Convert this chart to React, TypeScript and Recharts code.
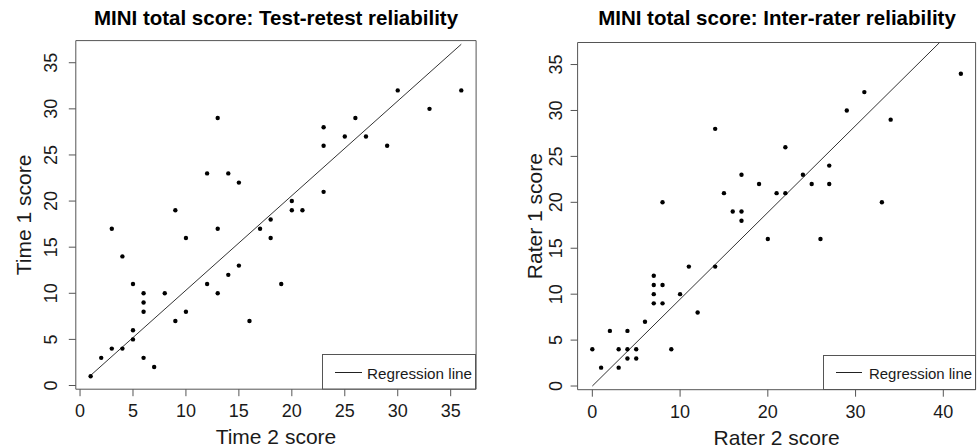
import React from 'react';
import {
  ScatterChart,
  Scatter,
  XAxis,
  YAxis,
  ReferenceArea,
  ReferenceLine,
  Legend,
} from 'recharts';

// Test-retest: Time 2 score (x) against Time 1 score (y)
const time2 = [1, 2, 3, 3, 4, 4, 5, 5, 5, 6, 6, 6, 6, 7, 8, 9, 9, 10, 10, 12, 12, 13, 13, 13, 14, 14, 15, 15, 16, 17, 18, 18, 19, 20, 20, 21, 23, 23, 23, 25, 26, 27, 29, 30, 33, 36];
const time1 = [1, 3, 4, 17, 4, 14, 11, 5, 6, 10, 9, 8, 3, 2, 10, 19, 7, 16, 8, 23, 11, 29, 17, 10, 23, 12, 22, 13, 7, 17, 18, 16, 11, 20, 19, 19, 28, 26, 21, 27, 29, 27, 26, 32, 30, 32];

// Inter-rater: Rater 2 score (x) against Rater 1 score (y)
const rater2 = [0, 1, 2, 3, 3, 4, 4, 4, 5, 5, 6, 7, 7, 7, 7, 8, 8, 8, 9, 10, 11, 12, 14, 14, 15, 16, 17, 17, 17, 19, 20, 21, 22, 22, 24, 25, 26, 27, 27, 29, 31, 33, 34, 42];
const rater1 = [4, 2, 6, 4, 2, 6, 4, 3, 4, 3, 7, 12, 11, 10, 9, 20, 11, 9, 4, 10, 13, 8, 28, 13, 21, 19, 23, 19, 18, 22, 16, 21, 26, 21, 23, 22, 16, 24, 22, 30, 32, 20, 29, 34];

// regression lines
const testRetestFit = { intercept: 0.07, slope: 1.026 };
const interRaterFit = { intercept: 0, slope: 0.945 };

const timeTicks = [0, 5, 10, 15, 20, 25, 30, 35];
const raterTicks = [0, 10, 20, 30, 40];
const scoreTicks = [0, 5, 10, 15, 20, 25, 30, 35];

const FONT = '"Liberation Sans", Arial, Helvetica, sans-serif';
const INK = '#1a1a1a';
const FRAME = '#555';
const AXIS_W = 30; // room reserved for each axis inside the margin

type Fit = { intercept: number; slope: number };
type LegendBox = {
  left: number;
  top: number;
  width: number;
  height: number;
  line: [number, number];
  lineY: number;
  textX: number;
  textY: number;
  textLen: number;
};

type PanelProps = {
  xs: number[];
  ys: number[];
  fit: Fit;
  xLabel: string;
  yLabel: string;
  xTicks: number[];
  xDomain: [number, number];
  yDomain: [number, number];
  left: number;
  width: number;
  // plot box edges measured from the chart's own top-left corner
  box: { top: number; right: number; bottom: number; left: number };
  yTickGap: number;
  yTitleGap: number;
  legendBox: LegendBox;
};

function Dot(props: any) {
  const { cx, cy } = props;
  if (cx == null || cy == null) return null;
  return <circle cx={cx} cy={cy} r={2.2} fill="#000" />;
}

function XTick(props: any) {
  const { x, y, payload } = props;
  return (
    <text x={x} y={y + 19} textAnchor="middle" fontSize={18} fontFamily={FONT} fill={INK}>
      {payload.value}
    </text>
  );
}

function makeYTick(gap: number) {
  return (props: any) => {
    const { x, y, payload } = props;
    return (
      <text
        transform={`translate(${x + 9 - gap},${y}) rotate(-90)`}
        textAnchor="middle"
        fontSize={18}
        fontFamily={FONT}
        fill={INK}
      >
        {payload.value}
      </text>
    );
  };
}

function Panel(p: PanelProps) {
  const points = p.xs.map((x, i) => ({ x, y: p.ys[i] }));
  const xMin = Math.min(...p.xs);
  const xMax = Math.min(Math.max(...p.xs), (p.yDomain[1] - p.fit.intercept) / p.fit.slope);
  const k = p.legendBox;
  const margin = {
    top: p.box.top,
    right: p.width - p.box.right,
    bottom: 448 - p.box.bottom - AXIS_W,
    left: p.box.left - AXIS_W,
  };

  return (
    <div style={{ position: 'absolute', left: p.left, top: 0 }}>
      <ScatterChart width={p.width} height={448} margin={margin}>
        <XAxis
          type="number"
          dataKey="x"
          domain={p.xDomain}
          allowDataOverflow
          ticks={p.xTicks}
          interval={0}
          height={AXIS_W}
          tickSize={7}
          tickMargin={2}
          axisLine={false}
          tickLine={{ stroke: FRAME }}
          tick={XTick}
          label={{
            content: (lp: any) => {
              const vb = lp.viewBox;
              return (
                <text x={vb.x + vb.width / 2} y={vb.y + 55} textAnchor="middle" fontSize={21} fontFamily={FONT} fill={INK}>
                  {p.xLabel}
                </text>
              );
            },
          }}
        />
        <YAxis
          type="number"
          dataKey="y"
          domain={p.yDomain}
          allowDataOverflow
          ticks={scoreTicks}
          interval={0}
          width={AXIS_W}
          tickSize={7}
          tickMargin={2}
          axisLine={false}
          tickLine={{ stroke: FRAME }}
          tick={makeYTick(p.yTickGap)}
          label={{
            content: (lp: any) => {
              const vb = lp.viewBox;
              return (
                <text
                  transform={`translate(${vb.x + vb.width - p.yTitleGap},${vb.y + vb.height / 2}) rotate(-90)`}
                  textAnchor="middle"
                  fontSize={21}
                  fontFamily={FONT}
                  fill={INK}
                >
                  {p.yLabel}
                </text>
              );
            },
          }}
        />
        <ReferenceArea
          x1={p.xDomain[0]}
          x2={p.xDomain[1]}
          y1={p.yDomain[0]}
          y2={p.yDomain[1]}
          fill="none"
          stroke={FRAME}
          strokeWidth={1}
          ifOverflow="visible"
        />
        <ReferenceLine
          segment={[
            { x: xMin, y: p.fit.intercept + p.fit.slope * xMin },
            { x: xMax, y: p.fit.intercept + p.fit.slope * xMax },
          ]}
          stroke="#333"
          strokeWidth={1}
          ifOverflow="visible"
        />
        <Scatter data={points} shape={Dot} isAnimationActive={false} />
        <Legend
          layout="horizontal"
          verticalAlign="middle"
          align="center"
          wrapperStyle={{ left: k.left, top: k.top, width: k.width, height: k.height, margin: 0, padding: 0 }}
          content={() => (
            <svg width={k.width} height={k.height} style={{ display: 'block' }}>
              <rect x={0.5} y={0.5} width={k.width - 1} height={k.height - 1} fill="#fff" stroke={FRAME} />
              <line x1={k.line[0]} x2={k.line[1]} y1={k.lineY} y2={k.lineY} stroke="#222" strokeWidth={1} />
              <text
                x={k.textX}
                y={k.textY}
                fontSize={15}
                fontFamily={FONT}
                fill={INK}
                textLength={k.textLen}
                lengthAdjust="spacingAndGlyphs"
              >
                Regression line
              </text>
            </svg>
          )}
        />
      </ScatterChart>
    </div>
  );
}

export default function App() {
  return (
    <div style={{ position: 'absolute', left: 0, top: 0, width: 977, height: 448, background: '#fff', overflow: 'hidden' }}>
      <Panel
        xs={time2}
        ys={time1}
        fit={testRetestFit}
        xLabel="Time 2 score"
        yLabel="Time 1 score"
        xTicks={timeTicks}
        xDomain={[-0.4, 37.4]}
        yDomain={[-0.4, 37.4]}
        left={0}
        width={488}
        box={{ top: 40.6, right: 476.1, bottom: 389.2, left: 75.8 }}
        yTickGap={19}
        yTitleGap={45}
        legendBox={{ left: 322, top: 354, width: 154, height: 35.5, line: [13, 40], lineY: 18.5, textX: 45, textY: 24.5, textLen: 105 }}
      />
      <Panel
        xs={rater2}
        ys={rater1}
        fit={interRaterFit}
        xLabel="Rater 2 score"
        yLabel="Rater 1 score"
        xTicks={raterTicks}
        xDomain={[-1.68, 43.68]}
        yDomain={[-0.4, 37.4]}
        left={488}
        width={489}
        box={{ top: 42.5, right: 487.6, bottom: 389.7, left: 89.6 }}
        yTickGap={16}
        yTitleGap={36}
        legendBox={{ left: 335, top: 355, width: 153, height: 35, line: [13, 39], lineY: 17.5, textX: 46, textY: 23.5, textLen: 103 }}
      />
      <svg width={977} height={448} style={{ position: 'absolute', left: 0, top: 0, pointerEvents: 'none' }}>
        <text x={276} y={25} textAnchor="middle" fontSize={20.5} fontWeight="bold" fontFamily={FONT} fill="#000">
          MINI total score: Test-retest reliability
        </text>
        <text x={777} y={25} textAnchor="middle" fontSize={20.5} fontWeight="bold" fontFamily={FONT} fill="#000">
          MINI total score: Inter-rater reliability
        </text>
      </svg>
    </div>
  );
}
